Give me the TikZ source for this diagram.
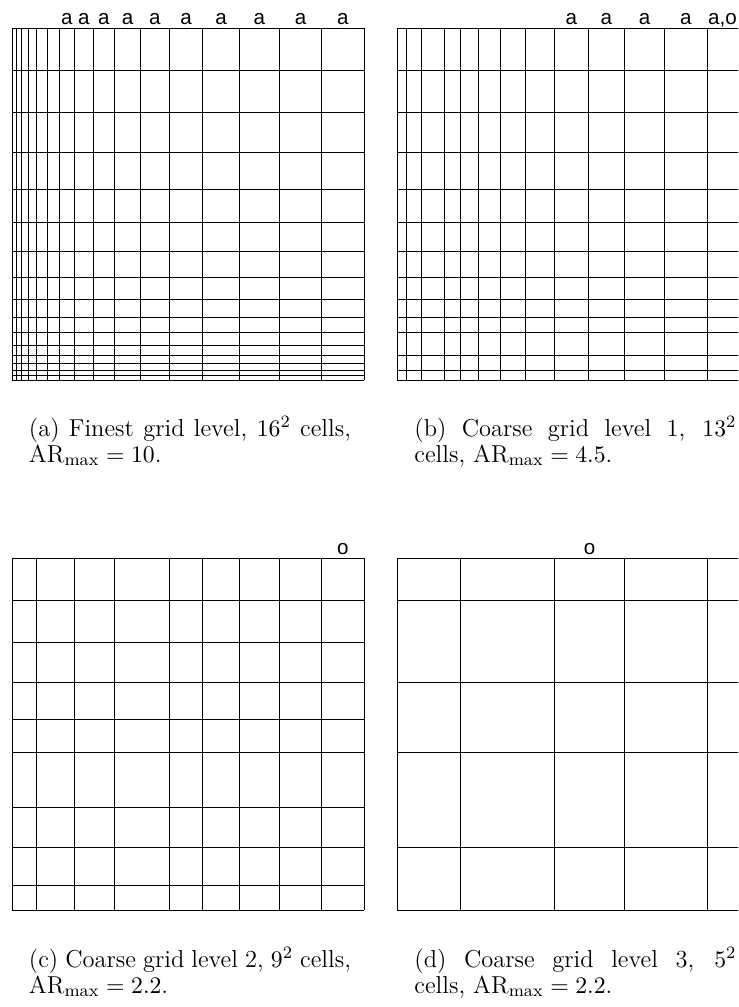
\documentclass[tikz,border=0pt]{standalone}
\usepackage{fontspec}
\newfontfamily\labfont{Liberation Sans}
\newlength\mycapw
\setlength\mycapw{148.6pt}
\newcommand\drawmesh[3]{%
  \foreach \s in {#3} {%
    \draw[gridline] ({#1+\s},{#2-352}) -- ({#1+\s},{#2});
    \draw[gridline] ({#1},{#2-\s}) -- ({#1+352},{#2-\s});
  }%
}
\begin{document}
\begin{tikzpicture}[x=0.4615pt,y=-0.4615pt,
  gridline/.style={line width=0.45pt, black},
  lab/.style={font=\labfont\fontsize{9.5}{11}\selectfont, anchor=base, inner sep=0pt},
  captext/.style={anchor=base west, inner sep=0pt, font=\fontsize{11.3}{13}\selectfont}]
\useasboundingbox (0,0) rectangle (738,1007);
\begin{scope}
\clip (0,0) rectangle (738,1007);
% (a) finest grid
\drawmesh{12}{380}{0,4.2,9.4,16.3,24.6,35,47.2,62.7,81,102.7,128.3,157.3,190.7,227.3,267.3,309.7,352}
% (b) coarse level 1
\drawmesh{397.3}{380}{0,9.4,24.6,47.2,62.7,81,102.7,128.3,157.3,190.7,227.3,267.3,309.7,352}
% (c) coarse level 2
\drawmesh{12}{910}{0,24.6,62.7,102.7,157.3,190.7,227.3,267.3,309.7,352}
% (d) coarse level 3
\drawmesh{397.3}{910}{0,62.7,157.3,227.3,309.7,352}
% labels (a)
\node[lab] (a1) at (66.95,24.5) {a};
\node[lab] (a2) at (83.85,24.5) {a};
\node[lab] (a3) at (103.85,24.5) {a};
\node[lab] (a4) at (127.5,24.5) {a};
\node[lab] (a5) at (154.8,24.5) {a};
\node[lab] (a6) at (186,24.5) {a};
\node[lab] (a7) at (221,24.5) {a};
\node[lab] (a8) at (259.3,24.5) {a};
\node[lab] (a9) at (300.5,24.5) {a};
\node[lab] (a10) at (342.85,24.5) {a};
% labels (b)
\node[lab] (b1) at (571.3,24.5) {a};
\node[lab] (b2) at (606.3,24.5) {a};
\node[lab] (b3) at (644.6,24.5) {a};
\node[lab] (b4) at (685.8,24.5) {a};
\node[lab] (b5) at (722.5,24.5) {a,o};
% labels (c), (d)
\node[lab] (c1) at (342.85,554) {o};
\node[lab] (d1) at (589.6,554) {o};
\end{scope}
% captions
\node[captext] (capa1) at (28.5,436) {\hbox to \mycapw{(a) Finest grid level, $16^2$ cells,}};
\node[captext] (capa2) at (28.5,462) {$\mathrm{AR}_{\max}=10$.};
\node[captext] (capb1) at (414,436) {\hbox to \mycapw{(b) Coarse grid level 1, $13^2$}};
\node[captext] (capb2) at (414,462) {cells, $\mathrm{AR}_{\max}=4.5$.};
\node[captext] (capc1) at (28.5,967) {\hbox to \mycapw{(c) Coarse grid level 2, $9^2$ cells,}};
\node[captext] (capc2) at (28.5,993) {$\mathrm{AR}_{\max}=2.2$.};
\node[captext] (capd1) at (414,967) {\hbox to \mycapw{(d) Coarse grid level 3, $5^2$}};
\node[captext] (capd2) at (414,993) {cells, $\mathrm{AR}_{\max}=2.2$.};
\end{tikzpicture}
\end{document}
